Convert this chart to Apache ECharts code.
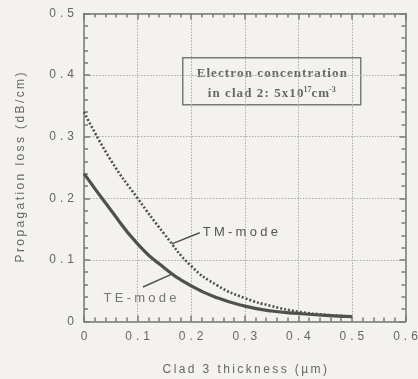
<!DOCTYPE html>
<html>
<head>
<meta charset="utf-8">
<script src="https://cdn.jsdelivr.net/npm/echarts@6/dist/echarts.min.js"></script>
<style>
  html, body { margin: 0; padding: 0; background: #f4f2ef; }
  #chart { width: 418px; height: 379px; }
</style>
</head>
<body>
<div id="chart"></div>
<script>
// Clad 3 thickness (µm)
const thickness = [0, 0.05, 0.1, 0.15, 0.2, 0.25, 0.3, 0.35, 0.4, 0.45, 0.5];
// Propagation loss (dB/cm)
const tmLoss = [0.34, 0.262, 0.2, 0.142, 0.09, 0.058, 0.038, 0.025, 0.016, 0.011, 0.008];
const teLoss = [0.24, 0.181, 0.126, 0.087, 0.058, 0.038, 0.025, 0.017, 0.013, 0.01, 0.008];
// Leader lines for the curve labels: [x, y] in axis units
const tmLeader = [[0.164, 0.126], [0.216, 0.144]];
const teLeader = [[0.110, 0.056], [0.164, 0.077]];
const teLabelAt = [0.1045, 0.038];

const ink = '#505050';
const textColor = '#666666';
const frameColor = '#7a7a7a';
const gridColor = '#ababab';

// Typeset text with a little extra tracking between characters
const track = (s, gap) => s.split('').join(gap);
const HAIR = '\u200A';
const THIN = '\u2009';
const THREE_PER_EM = '\u2004';
const FOUR_PER_EM = '\u2005';

const chart = echarts.init(document.getElementById('chart'));

// Frame axes: one set carries the labelled major ticks, another the short minor ticks
const frameAxis = (interval, tickLen, showLine) => ({
  type: 'value', min: 0, interval: interval,
  axisLine: { show: showLine, onZero: false, lineStyle: { color: frameColor, width: 1.5 } },
  axisTick: { show: true, inside: true, length: tickLen, lineStyle: { color: frameColor, width: 1.5 } },
  axisLabel: { show: false },
  splitLine: { show: false }
});
const tickLabel = v => track(v === 0 ? '0' : v.toFixed(1), THREE_PER_EM);
const gridLine = { show: true, lineStyle: { color: gridColor, type: [1.5, 1.5], width: 1 } };

chart.setOption({
  backgroundColor: '#f4f2ef',
  animation: false,
  grid: { left: 84, right: 12.5, top: 13.5, bottom: 57.5, containLabel: false, outerBoundsMode: 'none' },
  xAxis: [
    Object.assign(frameAxis(0.1, 6, true), {
      max: 0.6, position: 'bottom',
      name: track('Clad 3 thickness (\u00b5m)', THIN), nameLocation: 'middle', nameGap: 42,
      nameTextStyle: { color: textColor, fontSize: 12, fontFamily: 'Liberation Sans' },
      axisLabel: { show: true, color: textColor, fontSize: 12, fontFamily: 'Liberation Sans', margin: 9, formatter: tickLabel },
      splitLine: gridLine
    }),
    Object.assign(frameAxis(0.02, 4, false), { max: 0.6, position: 'bottom' }),
    Object.assign(frameAxis(0.1, 6, true), { max: 0.6, position: 'top' }),
    Object.assign(frameAxis(0.02, 4, false), { max: 0.6, position: 'top' })
  ],
  yAxis: [
    Object.assign(frameAxis(0.1, 6, true), {
      max: 0.5, position: 'left',
      name: track('Propagation loss (dB/cm)', THIN), nameLocation: 'middle', nameGap: 57,
      nameTextStyle: { color: textColor, fontSize: 12, fontFamily: 'Liberation Sans' },
      axisLabel: { show: true, color: textColor, fontSize: 12, fontFamily: 'Liberation Sans', margin: 10, formatter: tickLabel },
      splitLine: gridLine
    }),
    Object.assign(frameAxis(0.02, 4, false), { max: 0.5, position: 'left' }),
    Object.assign(frameAxis(0.1, 6, true), { max: 0.5, position: 'right' }),
    Object.assign(frameAxis(0.02, 4, false), { max: 0.5, position: 'right' })
  ],
  series: [
    {
      name: 'TM-mode', type: 'line', smooth: 0.5, symbol: 'none',
      data: thickness.map((x, i) => [x, tmLoss[i]]),
      lineStyle: { color: ink, width: 2.6, type: [2, 2] },
      z: 3
    },
    {
      name: 'TE-mode', type: 'line', smooth: 0.5, symbol: 'none',
      data: thickness.map((x, i) => [x, teLoss[i]]),
      lineStyle: { color: ink, width: 3.2 },
      z: 4
    },
    {
      name: 'TM leader', type: 'line', symbol: 'none', silent: true,
      data: tmLeader,
      lineStyle: { color: ink, width: 1.5 },
      endLabel: { show: true, formatter: track('TM-mode', FOUR_PER_EM), color: '#555', fontSize: 13,
        fontFamily: 'Liberation Sans', distance: 3 }
    },
    {
      name: 'TE leader', type: 'line', symbol: 'none', silent: true,
      data: teLeader,
      lineStyle: { color: ink, width: 1.5 }
    },
    {
      name: 'TE label', type: 'scatter', symbolSize: 0, silent: true,
      data: [teLabelAt],
      label: { show: true, position: 'inside', formatter: track('TE-mode', FOUR_PER_EM), color: '#555',
        fontSize: 13, fontFamily: 'Liberation Sans' }
    }
  ],
  graphic: [
    {
      type: 'group', left: 182, top: 57,
      children: [
        { type: 'rect', shape: { x: 0, y: 0, width: 178, height: 47 },
          style: { fill: '#f4f2ef', stroke: frameColor, lineWidth: 1.5 } },
        { type: 'text', x: 89, y: 15.5,
          style: { text: track('Electron concentration', HAIR), fill: '#666', align: 'center', verticalAlign: 'middle',
            font: 'bold 13px "Liberation Serif"' } },
        { type: 'text', x: 89, y: 36,
          style: { text: '{t|' + track('in clad 2: 5x10', HAIR) + '}{s|17}{t|' + track('cm', HAIR) + '}{s|-3}',
            align: 'center', verticalAlign: 'middle',
            rich: {
              t: { fill: '#666', font: 'bold 13px "Liberation Serif"' },
              s: { fill: '#666', font: 'bold 8px "Liberation Serif"', verticalAlign: 'top', padding: [0, 0, 7, 0] }
            } } }
      ]
    }
  ]
});
</script>
</body>
</html>
